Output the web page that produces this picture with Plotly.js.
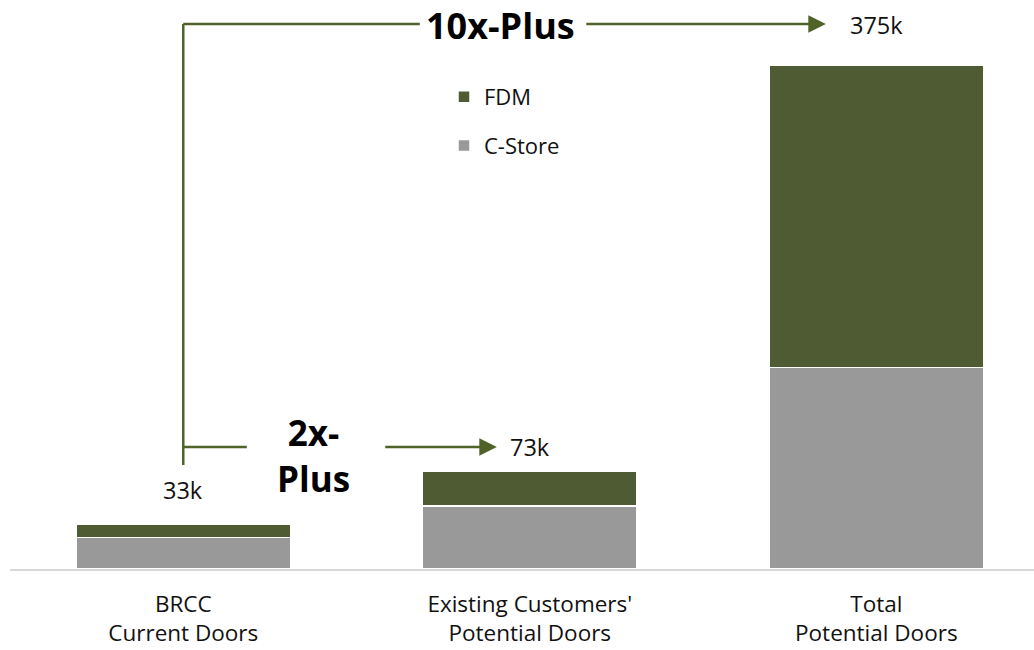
<!DOCTYPE html>
<html>
<head>
<meta charset="utf-8">
<script src="https://cdn.plot.ly/plotly-3.0.1.min.js"></script>
<style>html,body{margin:0;padding:0;background:#fff;}#chart{width:1034px;height:650px;}</style>
</head>
<body>
<div id="chart"></div>
<script>
// Data
var categories = ["BRCC<br>Current Doors", "Existing Customers'<br>Potential Doors", "Total<br>Potential Doors"];
var cstore = [23.5, 47, 150];
var fdm = [9.5, 26, 225];
var seriesNames = ["C-Store", "FDM"];
var multipleLabels = ["10x-Plus", "2x-<br>Plus"];

var totals = cstore.map(function(v, i){ return v + fdm[i]; });
var xi = categories.map(function(c, i){ return i; });

var olive = '#4F5B33';
var grey = '#999999';
var lineCol = '#4F6228';
var font = 'Open Sans, Noto Sans, sans-serif';

var traces = [
  {type: 'bar', x: xi, y: cstore, name: seriesNames[0], legendgroup: 'a', legendrank: 2,
   marker: {color: grey, line: {color: '#ffffff', width: 1.5}}, width: 0.62, hoverinfo: 'skip'},
  {type: 'bar', x: xi, y: fdm, name: seriesNames[1], legendgroup: 'b', legendrank: 1,
   marker: {color: olive, line: {color: '#ffffff', width: 1.5}}, width: 0.62, hoverinfo: 'skip'}
];

// y position helper for decorations (px from top -> data units)
var pxPerUnit = 1.343;
function yv(px){ return (569 - px) / pxPerUnit; }
function xv(px){ return (px - 183.5) / 346.5; }

var labelY = [yv(490), yv(447), yv(25)];
var annotations = totals.map(function(t, i){
  return {x: i, y: labelY[i], xref: 'x', yref: 'y', text: Math.round(t) + 'k', showarrow: false,
          font: {family: font, size: 23.5, color: '#111'}};
});
annotations.push({x: xv(501), y: yv(25), xref: 'x', yref: 'y', text: '<b>' + multipleLabels[0] + '</b>', showarrow: false,
  font: {family: font, size: 36, color: '#000'}});
annotations.push({x: xv(314), y: yv(455), xref: 'x', yref: 'y', text: '<b>' + multipleLabels[1] + '</b>', showarrow: false,
  font: {family: font, size: 35, color: '#000'}});
// arrows
annotations.push({x: xv(826), y: yv(24), ax: xv(585), ay: yv(24), xref: 'x', yref: 'y', axref: 'x', ayref: 'y',
  text: '', showarrow: true, arrowhead: 2, arrowsize: 1.4, arrowwidth: 2.5, arrowcolor: lineCol});
annotations.push({x: xv(497), y: yv(447), ax: xv(384), ay: yv(447), xref: 'x', yref: 'y', axref: 'x', ayref: 'y',
  text: '', showarrow: true, arrowhead: 2, arrowsize: 1.4, arrowwidth: 2.5, arrowcolor: lineCol});

var shapes = [
  {type: 'line', xref: 'x', yref: 'y', x0: 0, x1: 0, y0: yv(465), y1: yv(24), line: {color: lineCol, width: 2.5}},
  {type: 'line', xref: 'x', yref: 'y', x0: 0, x1: xv(420), y0: yv(24), y1: yv(24), line: {color: lineCol, width: 2.5}},
  {type: 'line', xref: 'x', yref: 'y', x0: 0, x1: xv(247), y0: yv(447), y1: yv(447), line: {color: lineCol, width: 2.5}}
];

var layout = {
  width: 1034, height: 650,
  margin: {l: 10, r: 0, t: 0, b: 81},
  paper_bgcolor: '#fff', plot_bgcolor: '#fff',
  barmode: 'stack',
  bargap: 0.38,
  showlegend: true,
  legend: {x: (444 - 10) / 1024, y: 1 - 76 / 569, xanchor: 'left', yanchor: 'top',
           traceorder: 'grouped', tracegroupgap: 17, itemwidth: 30,
           font: {family: font, size: 22, color: '#111'}, bgcolor: 'rgba(0,0,0,0)'},
  xaxis: {range: [-0.5, 2.455], tickmode: 'array', tickvals: xi, ticktext: categories,
          showline: true, linecolor: '#d9d9d9', linewidth: 2, ticks: '', showgrid: false, zeroline: false,
          ticklabelstandoff: 14, tickfont: {family: font, size: 22.5, color: '#111'}, fixedrange: true},
  yaxis: {range: [0, 569 / pxPerUnit], visible: false, showgrid: false, zeroline: false, fixedrange: true},
  annotations: annotations,
  shapes: shapes,
  hovermode: false
};

Plotly.newPlot('chart', traces, layout, {displayModeBar: false, staticPlot: true});
</script>
</body>
</html>
